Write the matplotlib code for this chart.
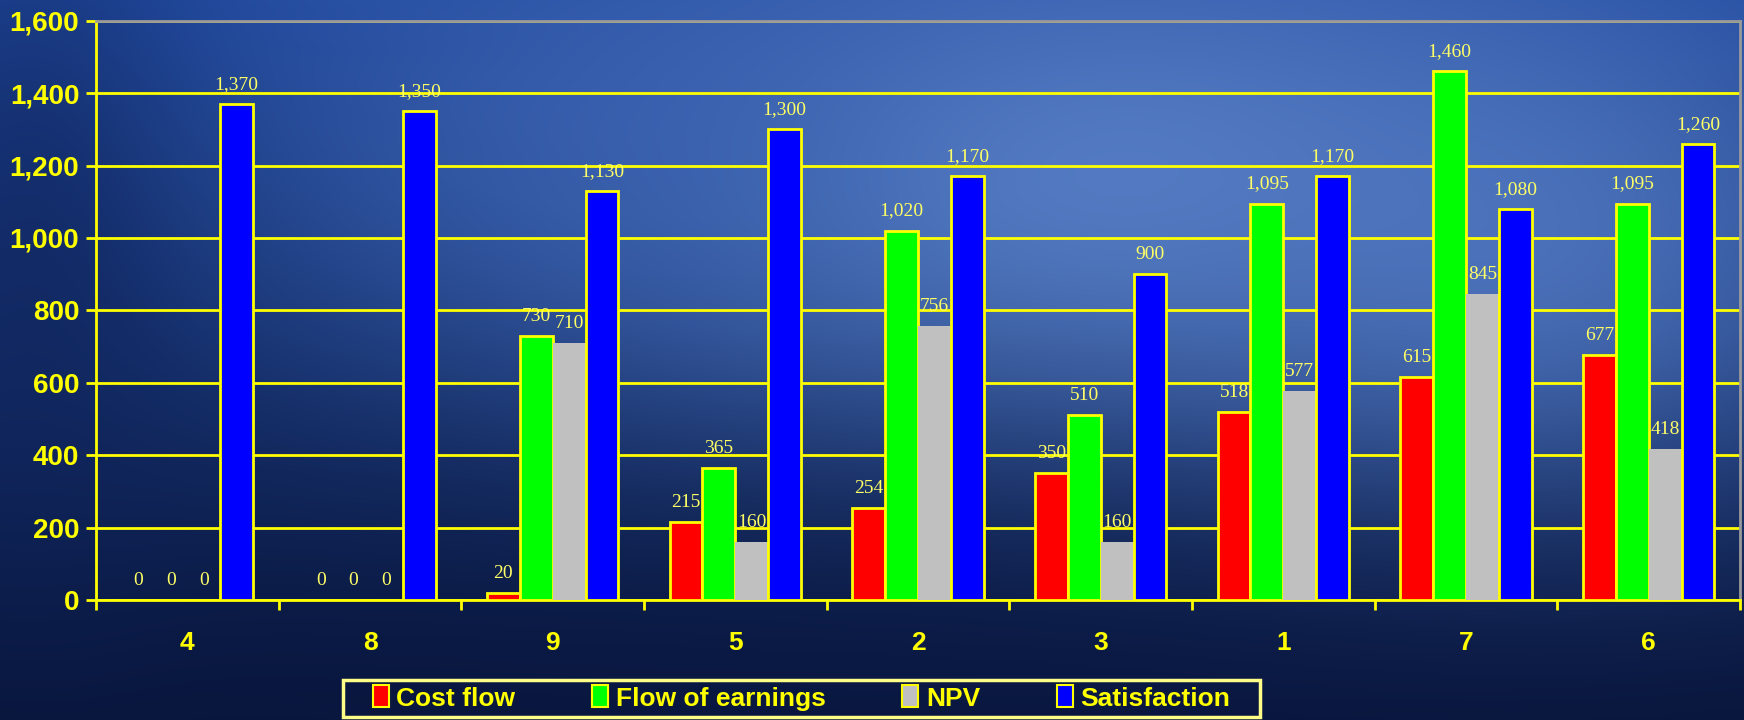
import numpy as np
import matplotlib
matplotlib.use("Agg")
import matplotlib.pyplot as plt
from matplotlib.patches import Patch, Rectangle
from matplotlib.ticker import FuncFormatter, FixedLocator

categories = ["4", "8", "9", "5", "2", "3", "1", "7", "6"]
series_names = ["Cost flow", "Flow of earnings", "NPV", "Satisfaction"]
cost_flow = [0, 0, 20, 215, 254, 350, 518, 615, 677]
flow_of_earnings = [0, 0, 730, 365, 1020, 510, 1095, 1460, 1095]
npv = [0, 0, 710, 160, 756, 160, 577, 845, 418]
satisfaction = [1370, 1350, 1130, 1300, 1170, 900, 1170, 1080, 1260]
y_ticks = [0, 200, 400, 600, 800, 1000, 1200, 1400, 1600]

colors = ["#ff0000", "#00ff00", "#c0c0c0", "#0000ff"]
edges = ["#ffff00", "#ffff00", "none", "#ffff00"]
YEL = "#ffff00"
LBL = "#ffff66"

W, H = 1744, 720
fig = plt.figure(figsize=(W / 100, H / 100), dpi=100)

# background sky gradient
yy, xx = np.mgrid[0:1:H * 1j, 0:1:W * 1j]
top = np.array([30, 70, 155]) / 255
bot = np.array([8, 20, 55]) / 255
t = np.clip(yy, 0, 1)[..., None]
img = top * (1 - t) + bot * t
def blob(cx, cy, rx, ry, col, amt):
    global img
    w = np.exp(-(((xx - cx) / rx) ** 2 + ((yy - cy) / ry) ** 2))[..., None] * amt
    img = img * (1 - w) + np.array(col) / 255 * w
blob(0.62, 0.25, 0.30, 0.35, [95, 135, 205], 0.85)
blob(0.88, 0.35, 0.20, 0.35, [85, 125, 200], 0.7)
blob(0.35, 0.20, 0.20, 0.30, [60, 100, 180], 0.6)
blob(0.02, 0.4, 0.08, 0.5, [15, 35, 90], 0.6)
blob(0.5, 1.0, 0.6, 0.25, [10, 25, 70], 0.6)
bg = fig.add_axes([0, 0, 1, 1], zorder=-10)
bg.imshow(np.clip(img, 0, 1), aspect="auto", extent=[0, 1, 0, 1])
bg.axis("off")

ax = fig.add_axes([96 / W, 1 - 600 / H, (1740 - 96) / W, (600 - 20.7) / H])
ax.set_facecolor("none")

x = np.arange(len(categories))
w = 0.18
all_series = [cost_flow, flow_of_earnings, npv, satisfaction]
for i, vals in enumerate(all_series):
    off = (i - 1.5) * w
    ax.bar(x + off, vals, w, color=colors[i], edgecolor=edges[i],
           linewidth=2, zorder=3)
    for xi, v in zip(x + off, vals):
        ax.annotate(f"{v:,}", (xi, v), xytext=(0, 8), textcoords="offset points",
                    ha="center", va="bottom", color=LBL, fontsize=14,
                    family="Liberation Serif", zorder=4)

ax.set_xlim(-0.5, len(categories) - 0.5)
ax.set_ylim(0, 1600)
ax.yaxis.set_major_locator(FixedLocator(y_ticks))
ax.yaxis.set_major_formatter(FuncFormatter(lambda v, p: f"{int(v):,}"))
ax.grid(axis="y", color=YEL, linewidth=2, zorder=1)
ax.set_axisbelow(True)

ax.set_xticks(x)
ax.set_xticklabels(categories)
ax.set_xticks(np.arange(-0.5, len(categories)), minor=True)
ax.tick_params(axis="x", which="major", length=0, pad=22, colors=YEL, labelsize=19)
ax.tick_params(axis="x", which="minor", length=7, width=2, color=YEL, direction="out")
ax.tick_params(axis="y", length=7, width=2, color=YEL, labelsize=20, labelcolor=YEL, pad=5)
for lab in ax.get_xticklabels() + ax.get_yticklabels():
    lab.set_fontweight("bold")
    lab.set_family("Liberation Sans")
    lab.set_color(YEL)

for s in ["left", "bottom"]:
    ax.spines[s].set_color(YEL)
    ax.spines[s].set_linewidth(2)
ax.spines["top"].set_color("#9a9a9a")
ax.spines["top"].set_linewidth(2)
ax.spines["right"].set_color("#9a9a9a")
ax.spines["right"].set_linewidth(2)

handles = [Patch(facecolor=colors[i], edgecolor=YEL, linewidth=1.5) for i in range(4)]
leg = fig.legend(handles, series_names, ncol=4, loc="center",
                 bbox_to_anchor=((343 + 1260) / 2 / W, 1 - 698 / H),
                 frameon=False, handlelength=0.6, handleheight=0.9,
                 handletextpad=0.3, columnspacing=2.9, borderpad=0.3,
                 borderaxespad=0,
                 prop={"family": "Liberation Sans", "weight": "bold", "size": 19})
for txt in leg.get_texts():
    txt.set_color(YEL)

fig.patches.append(Rectangle((343 / W, 1 - 717 / H), (1260 - 343) / W, (717 - 680) / H,
                             transform=fig.transFigure, facecolor="none",
                             edgecolor="#ffff88", linewidth=2.5, zorder=5))

fig.savefig("out.png", dpi=100)
